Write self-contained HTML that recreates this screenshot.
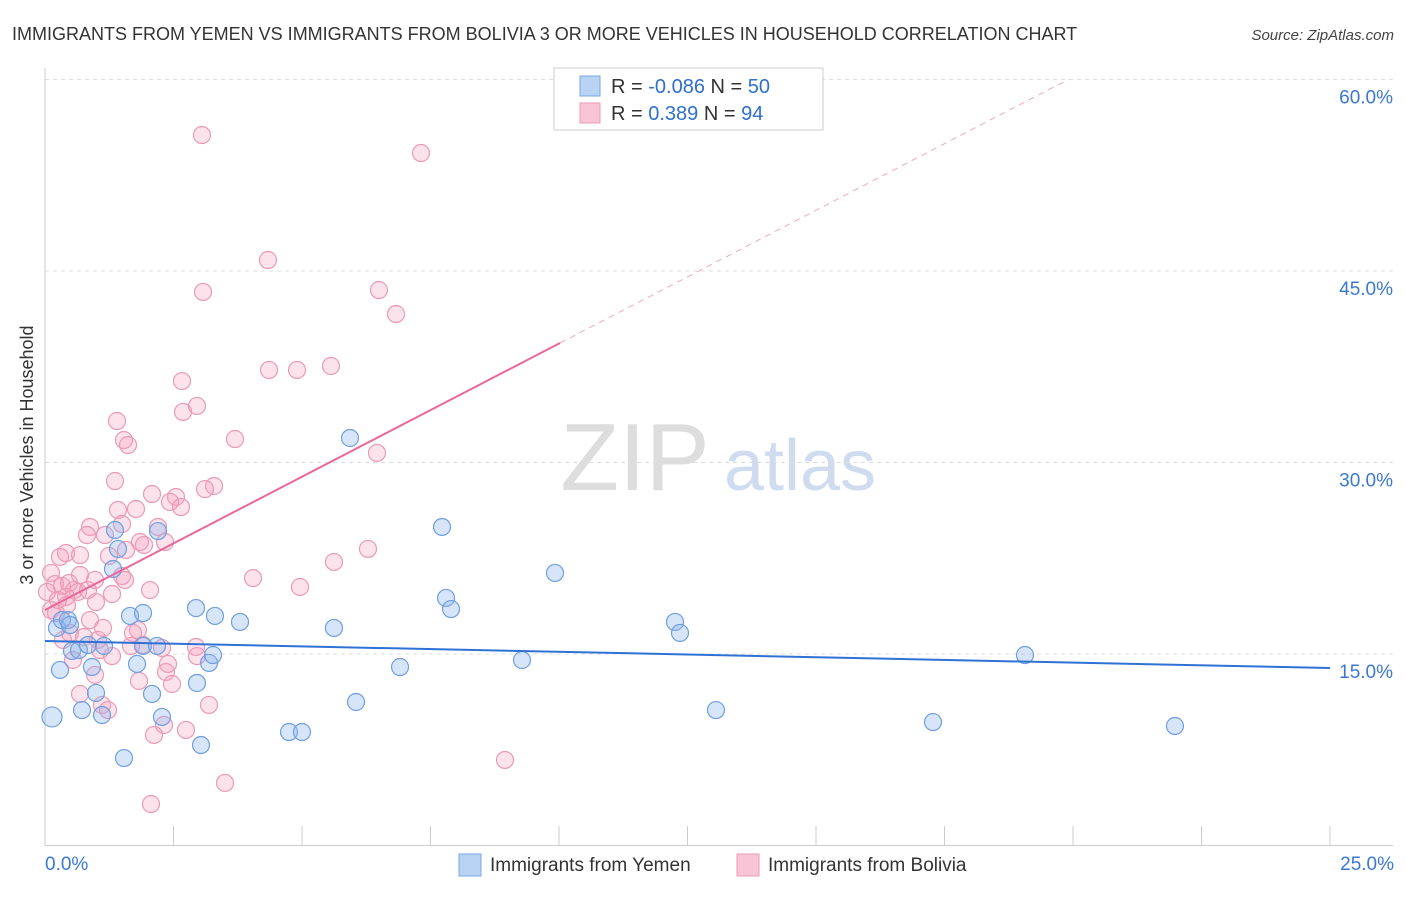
<!DOCTYPE html>
<html><head><meta charset="utf-8"><style>
body{margin:0;background:#fff;font-family:"Liberation Sans",sans-serif;}
svg text{font-family:"Liberation Sans",sans-serif;}
</style></head><body>
<svg id="chart" width="1406" height="892" xmlns="http://www.w3.org/2000/svg">
<text x="12" y="40" font-size="18" fill="#333">IMMIGRANTS FROM YEMEN VS IMMIGRANTS FROM BOLIVIA 3 OR MORE VEHICLES IN HOUSEHOLD CORRELATION CHART</text>
<text x="1394" y="40" font-size="15" fill="#444" font-style="italic" text-anchor="end">Source: ZipAtlas.com</text>
<text transform="translate(33,455) rotate(-90)" font-size="18" fill="#333" text-anchor="middle">3 or more Vehicles in Household</text>
<g>
<text x="635" y="490" font-size="96" fill="#ddd" font-family="Liberation Serif" text-anchor="middle">ZIP</text>
<text x="800" y="490" font-size="72" fill="#cfdcef" text-anchor="middle">atlas</text>
</g>
<g id="grid"></g><g id="axes"></g><g id="points"></g><g id="trends"></g>
<g>
<rect x="554" y="68" width="269" height="62" fill="#fff" stroke="#ccc"/>
<rect x="580" y="76" width="20" height="20" fill="#b9d3f5" stroke="#7aa6e0"/>
<rect x="580" y="103" width="20" height="20" fill="#f9c5d6" stroke="#ea9ab5"/>
<text x="611" y="93" font-size="20" fill="#333">R = <tspan fill="#2f6fd0">-0.086</tspan>   N = <tspan fill="#2f6fd0">50</tspan></text>
<text x="611" y="120" font-size="20" fill="#333">R =  <tspan fill="#2f6fd0"> 0.389</tspan>   N = <tspan fill="#2f6fd0">94</tspan></text>
</g>
<g>
<rect x="459" y="854" width="22" height="22" fill="#b9d3f5" stroke="#7aa6e0"/>
<text x="490" y="871" font-size="19" fill="#333">Immigrants from Yemen</text>
<rect x="737" y="854" width="22" height="22" fill="#f9c5d6" stroke="#ea9ab5"/>
<text x="768" y="871" font-size="19" fill="#333">Immigrants from Bolivia</text>
</g>
</svg>
<script>
const yTicks=[15,30,45,60];
const yTickLabels=["15.0%","30.0%","45.0%","60.0%"];
const xTicks=[0,2.5,5,7.5,10,12.5,15,17.5,20,22.5,25];
const yemenX=[0.136,0.233,0.292,0.331,0.447,0.486,0.525,0.661,0.720,0.837,0.914,0.992,1.109,1.148,1.323,1.362,1.420,1.537,1.654,1.790,1.907,1.907,2.082,2.179,2.198,2.276,2.938,2.957,3.035,3.191,3.268,3.307,3.794,4.747,5.000,5.622,5.934,6.051,6.907,7.724,7.802,7.899,9.280,9.922,12.257,12.354,13.054,17.276,19.066,21.984];
const yemenY=[10.07,17.04,13.75,17.66,17.66,17.27,15.24,15.31,10.61,15.71,13.98,11.95,10.22,15.63,21.66,24.71,23.23,6.85,17.98,14.22,18.21,15.63,11.87,15.63,24.63,10.07,18.60,12.73,7.87,14.30,14.92,17.98,17.51,8.89,8.89,17.04,31.92,11.24,13.98,24.95,19.39,18.52,14.53,21.35,17.51,16.65,10.61,9.67,14.92,9.36];
const boliviaX=[3.054,7.315,4.338,3.074,6.498,6.829,2.665,4.358,4.903,5.564,2.957,2.685,1.401,1.537,1.615,3.696,6.459,1.362,2.082,3.288,3.113,2.549,2.646,1.420,1.770,2.432,1.498,0.875,0.817,1.167,2.198,1.926,1.848,1.576,2.335,6.284,0.409,0.681,0.292,1.245,1.498,4.047,5.622,4.961,0.117,0.195,0.331,0.467,0.564,0.642,0.837,0.409,0.428,0.992,1.304,0.117,0.214,0.486,0.759,1.031,1.128,1.809,1.712,1.907,1.673,2.276,2.938,2.957,1.304,2.393,2.354,0.973,1.829,2.471,0.681,1.109,1.226,3.191,2.315,2.743,2.121,2.062,3.502,8.949,0.545,0.253,0.039,0.681,0.973,1.556,0.350,1.070,0.875,2.043];
const boliviaY=[55.65,54.24,45.86,43.36,43.51,41.63,36.38,37.25,37.25,37.56,34.43,33.96,33.25,31.76,31.37,31.84,30.75,28.55,27.53,28.16,27.92,27.30,26.51,26.28,26.36,26.91,25.18,24.95,24.32,24.32,24.95,23.54,23.77,23.15,23.77,23.23,22.91,22.75,22.60,22.68,21.11,20.95,22.21,20.25,21.35,20.48,20.33,20.56,20.01,19.86,20.01,19.47,18.84,19.07,19.70,18.45,18.21,16.65,16.33,16.10,17.04,16.88,16.65,15.71,15.63,15.47,15.55,14.84,14.84,14.22,13.59,13.36,12.89,12.65,11.87,11.01,10.61,11.01,9.44,9.05,8.66,3.25,4.90,6.70,14.53,19.23,19.86,21.19,20.80,20.80,16.10,15.31,17.66,20.01];
const yemenTrend=[16.02,13.90];
const boliviaTrend=[18.45,2.087];
const NS="http://www.w3.org/2000/svg";
const X0=45,X1=1330,Y0=845.5,YPX=191.5/15;
function sx(v){return X0+(X1-X0)*v/25;}
function sy(v){return Y0-v*YPX;}
function mk(tag,attrs,parent){const e=document.createElementNS(NS,tag);for(const k in attrs)e.setAttribute(k,attrs[k]);parent.appendChild(e);return e;}
const grid=document.getElementById('grid'),axes=document.getElementById('axes'),pts=document.getElementById('points'),tr=document.getElementById('trends');
yTicks.forEach((t,i)=>{
 const l=mk('line',{x1:X0,x2:1393,y1:sy(t),y2:sy(t),stroke:'#ddd','stroke-dasharray':'4,4'},grid);
 
 
 const tx=mk('text',{x:1393,y:sy(t)+24,'font-size':19,fill:'#3a78d4','text-anchor':'end'},axes);
 tx.textContent=yTickLabels[i];
 
 
});
const ax=mk('line',{x1:X0,x2:1393,y1:Y0,y2:Y0,stroke:'#ccc'},axes);


const ay=mk('line',{x1:X0,x2:X0,y1:68,y2:Y0,stroke:'#ccc'},axes);


xTicks.forEach(t=>{
 const l=mk('line',{x1:sx(t),x2:sx(t),y1:826,y2:Y0,stroke:'#ccc'},axes);
 
 
});
const xl0=mk('text',{x:45,y:870,'font-size':19,fill:'#3a78d4'},axes);xl0.textContent='0.0%';


const xl1=mk('text',{x:1394,y:870,'font-size':19,fill:'#3a78d4','text-anchor':'end'},axes);xl1.textContent='25.0%';


boliviaX.forEach((x,i)=>{
 const c=mk('circle',{cx:sx(x),cy:sy(boliviaY[i]),r:8.5,fill:'rgba(244,160,190,0.3)',stroke:'#eb9ab6','stroke-width':1.2},pts);
 
 
});
yemenX.forEach((x,i)=>{
 const c=mk('circle',{cx:sx(x),cy:sy(yemenY[i]),r:i===0?10:8.5,fill:'rgba(140,180,235,0.35)',stroke:'#6f9fe0','stroke-width':1.2},pts);
 
 
});
const bl=mk('line',{x1:sx(0),y1:sy(yemenTrend[0]),x2:sx(25),y2:sy(yemenTrend[1]),stroke:'#2f72d6','stroke-width':2},tr);


const pEnd=10.02,pDash=(60-boliviaTrend[0])/boliviaTrend[1];
const pl=mk('line',{x1:sx(0),y1:sy(boliviaTrend[0]),x2:sx(pEnd),y2:sy(boliviaTrend[0]+boliviaTrend[1]*pEnd),stroke:'#e8689a','stroke-width':2},tr);


const pd=mk('line',{x1:sx(pEnd),y1:sy(boliviaTrend[0]+boliviaTrend[1]*pEnd),x2:sx(pDash),y2:sy(60),stroke:'#f0a8c0','stroke-width':1,'stroke-dasharray':'6,5'},tr);


</script>
</body></html>
